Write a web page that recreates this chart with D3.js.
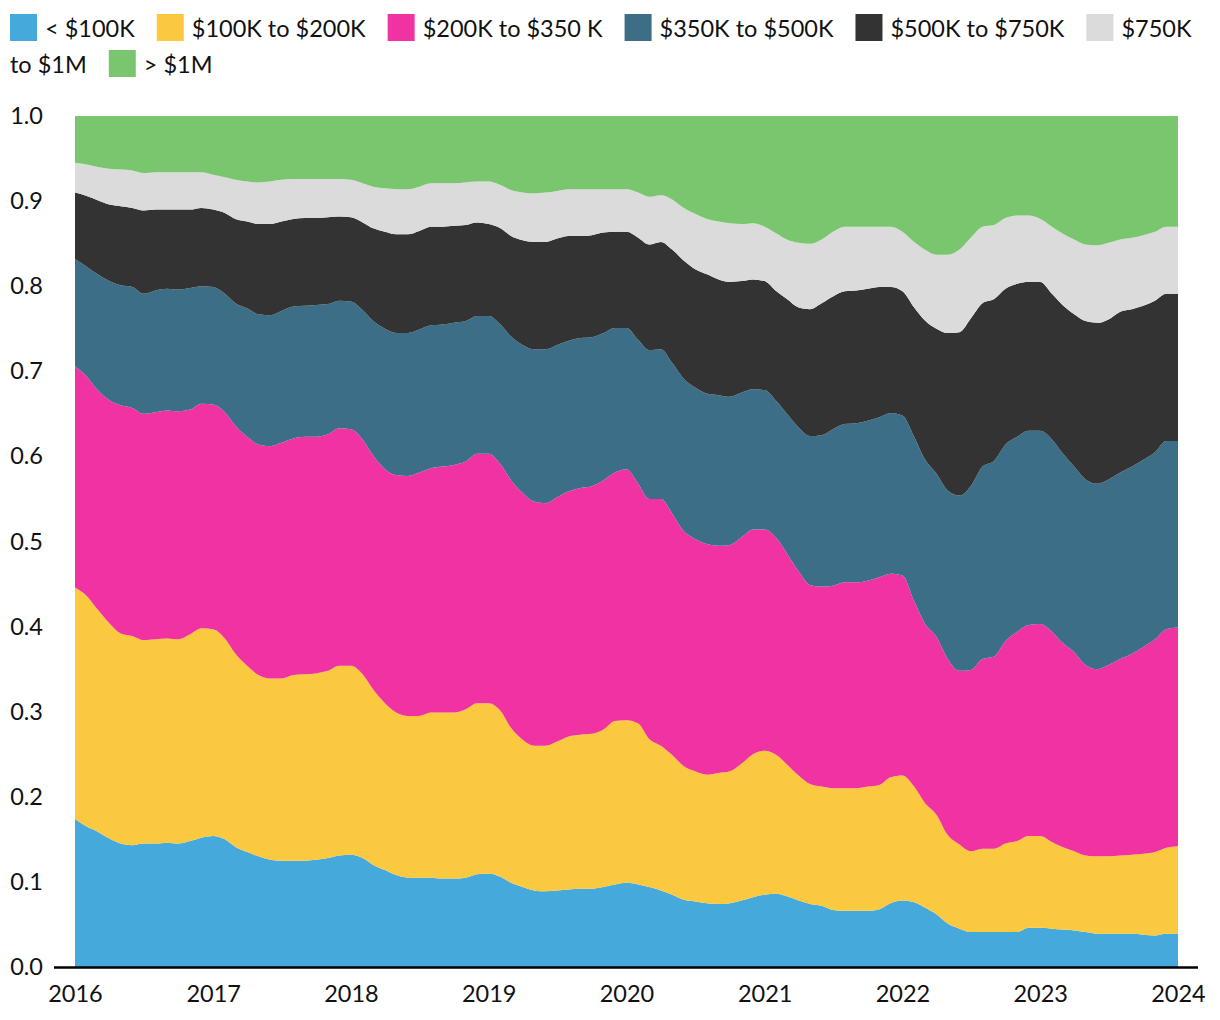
<!DOCTYPE html>
<html>
<head>
<meta charset="utf-8">
<script src="https://cdn.jsdelivr.net/npm/d3@7"></script>
<style>
  html, body { margin: 0; padding: 0; background: #fff; }
  svg { display: block; font-family: Lato, "Open Sans", sans-serif; }
</style>
</head>
<body>
<svg id="chart" width="1220" height="1020"></svg>
<script>
// ---- data (monthly shares, Jan 2016 .. Jan 2024) ----
const seriesNames = ["< $100K", "$100K to $200K", "$200K to $350 K", "$350K to $500K", "$500K to $750K", "$750K to $1M", "> $1M"];
const seriesColors = ["#45aadb", "#fbc93f", "#f032a2", "#3c6e87", "#333333", "#dbdbdb", "#7ac66e"];
const yTicks = [0, 0.1, 0.2, 0.3, 0.4, 0.5, 0.6, 0.7, 0.8, 0.9, 1.0];
const yearTicks = [2016, 2017, 2018, 2019, 2020, 2021, 2022, 2023, 2024];
const months = d3.timeMonth.range(new Date(2016, 0, 1), new Date(2024, 1, 1));

const under100k = [0.174,0.165,0.159,0.151,0.145,0.143,0.145,0.145,0.146,0.145,0.148,0.152,
 0.154,0.150,0.141,0.135,0.130,0.126,0.125,0.125,0.125,0.126,0.128,0.131,
 0.132,0.128,0.120,0.114,0.108,0.105,0.105,0.105,0.104,0.104,0.105,0.109,
 0.110,0.106,0.099,0.094,0.090,0.089,0.090,0.091,0.092,0.092,0.094,0.097,
 0.099,0.097,0.094,0.090,0.085,0.079,0.077,0.075,0.074,0.075,0.078,0.082,
 0.085,0.086,0.083,0.078,0.074,0.072,0.067,0.066,0.066,0.066,0.068,0.075,
 0.078,0.076,0.070,0.062,0.051,0.045,0.041,0.041,0.041,0.041,0.041,0.046,
 0.046,0.045,0.044,0.043,0.041,0.039,0.039,0.039,0.039,0.038,0.037,0.039,
 0.039];
const k100to200 = [0.272,0.271,0.261,0.253,0.247,0.246,0.239,0.240,0.240,0.240,0.243,0.246,
 0.243,0.236,0.227,0.219,0.213,0.213,0.214,0.218,0.219,0.219,0.220,0.223,
 0.222,0.216,0.206,0.196,0.191,0.190,0.190,0.194,0.195,0.195,0.198,0.201,
 0.200,0.195,0.182,0.173,0.170,0.171,0.175,0.180,0.181,0.182,0.185,0.192,
 0.191,0.189,0.174,0.170,0.164,0.157,0.153,0.151,0.154,0.155,0.161,0.168,
 0.169,0.163,0.155,0.147,0.141,0.140,0.143,0.144,0.144,0.146,0.146,0.148,
 0.147,0.136,0.123,0.117,0.104,0.099,0.095,0.098,0.098,0.104,0.107,0.108,
 0.108,0.102,0.097,0.093,0.090,0.091,0.091,0.092,0.093,0.095,0.098,0.101,
 0.103];
const k200to350 = [0.260,0.258,0.258,0.262,0.268,0.268,0.266,0.267,0.268,0.268,0.264,0.264,
 0.264,0.266,0.268,0.269,0.271,0.273,0.277,0.278,0.279,0.278,0.278,0.279,
 0.278,0.276,0.275,0.275,0.279,0.282,0.286,0.287,0.289,0.291,0.291,0.293,
 0.293,0.290,0.291,0.290,0.287,0.285,0.287,0.288,0.290,0.291,0.293,0.292,
 0.295,0.282,0.282,0.290,0.284,0.276,0.273,0.271,0.267,0.266,0.266,0.264,
 0.260,0.255,0.248,0.240,0.234,0.235,0.238,0.242,0.242,0.242,0.244,0.239,
 0.235,0.218,0.211,0.209,0.207,0.204,0.213,0.223,0.226,0.238,0.246,0.248,
 0.249,0.247,0.240,0.234,0.224,0.220,0.225,0.231,0.236,0.243,0.250,0.257,
 0.257];
const k350to500 = [0.126,0.129,0.136,0.140,0.141,0.142,0.141,0.143,0.143,0.143,0.143,0.138,
 0.138,0.139,0.144,0.151,0.153,0.154,0.155,0.155,0.154,0.155,0.153,0.150,
 0.150,0.152,0.158,0.165,0.167,0.168,0.168,0.168,0.167,0.167,0.165,0.162,
 0.162,0.164,0.169,0.174,0.179,0.181,0.179,0.177,0.176,0.175,0.173,0.170,
 0.166,0.169,0.175,0.176,0.177,0.179,0.178,0.177,0.177,0.174,0.170,0.165,
 0.164,0.161,0.164,0.169,0.175,0.178,0.184,0.186,0.187,0.188,0.188,0.189,
 0.188,0.193,0.193,0.192,0.198,0.206,0.216,0.226,0.230,0.231,0.229,0.228,
 0.227,0.226,0.223,0.218,0.218,0.218,0.218,0.219,0.220,0.220,0.220,0.221,
 0.219];
const k500to750 = [0.078,0.083,0.087,0.090,0.093,0.093,0.098,0.095,0.093,0.094,0.092,0.092,
 0.091,0.095,0.099,0.102,0.106,0.107,0.105,0.103,0.103,0.102,0.102,0.099,
 0.099,0.103,0.109,0.114,0.116,0.116,0.116,0.116,0.115,0.114,0.113,0.110,
 0.108,0.113,0.118,0.123,0.126,0.126,0.125,0.123,0.120,0.120,0.118,0.113,
 0.113,0.120,0.124,0.126,0.133,0.139,0.139,0.140,0.136,0.135,0.131,0.129,
 0.128,0.129,0.135,0.141,0.149,0.155,0.156,0.156,0.156,0.155,0.153,0.148,
 0.146,0.152,0.163,0.170,0.185,0.192,0.197,0.192,0.190,0.183,0.180,0.175,
 0.175,0.171,0.174,0.179,0.186,0.189,0.188,0.189,0.185,0.181,0.178,0.173,
 0.173];
const k750to1m = [0.035,0.037,0.039,0.042,0.043,0.044,0.044,0.044,0.044,0.044,0.044,0.042,
 0.041,0.042,0.046,0.047,0.049,0.050,0.049,0.047,0.046,0.046,0.045,0.044,
 0.044,0.046,0.049,0.051,0.053,0.053,0.052,0.051,0.051,0.050,0.050,0.048,
 0.050,0.051,0.054,0.056,0.057,0.058,0.056,0.055,0.055,0.054,0.051,0.050,
 0.050,0.053,0.056,0.055,0.059,0.062,0.065,0.065,0.068,0.069,0.067,0.066,
 0.064,0.068,0.070,0.076,0.077,0.075,0.076,0.076,0.075,0.073,0.071,0.071,
 0.070,0.077,0.083,0.087,0.092,0.097,0.095,0.090,0.087,0.083,0.080,0.078,
 0.074,0.079,0.084,0.088,0.090,0.091,0.090,0.085,0.084,0.083,0.081,0.079,
 0.079];
const over1m = [0.055,0.057,0.060,0.062,0.063,0.064,0.067,0.066,0.066,0.066,0.066,0.066,
 0.069,0.072,0.075,0.077,0.078,0.077,0.075,0.074,0.074,0.074,0.074,0.074,
 0.075,0.079,0.083,0.085,0.086,0.086,0.083,0.079,0.079,0.079,0.078,0.077,
 0.077,0.081,0.087,0.090,0.091,0.090,0.088,0.086,0.086,0.086,0.086,0.086,
 0.086,0.090,0.095,0.093,0.098,0.108,0.115,0.121,0.124,0.126,0.127,0.126,
 0.130,0.138,0.145,0.149,0.150,0.145,0.136,0.130,0.130,0.130,0.130,0.130,
 0.136,0.148,0.157,0.163,0.163,0.157,0.143,0.130,0.128,0.120,0.117,0.117,
 0.121,0.130,0.138,0.145,0.151,0.152,0.149,0.145,0.143,0.140,0.136,0.130,
 0.130];

const seriesValues = [under100k, k100to200, k200to350, k350to500, k500to750, k750to1m, over1m];

// ---- table for d3.stack ----
const table = months.map((m, i) => {
  const row = { date: m };
  seriesNames.forEach((n, k) => { row[n] = seriesValues[k][i]; });
  return row;
});

const svg = d3.select("#chart");
const plot = { left: 75, right: 1178, top: 116, bottom: 967 };
const FONT = 23.5;

const x = d3.scaleTime()
  .domain([new Date(2016, 0, 1), new Date(2024, 0, 1)])
  .range([plot.left, plot.right]);
const y = d3.scaleLinear().domain([0, 1]).range([plot.bottom, plot.top]);

const stack = d3.stack().keys(seriesNames).offset(d3.stackOffsetExpand);
const layers = stack(table);

const area = d3.area()
  .x(d => x(d.data.date))
  .y0(d => y(d[0]))
  .y1(d => y(d[1]))
  .curve(d3.curveMonotoneX);

svg.append("g").selectAll("path")
  .data(layers)
  .join("path")
  .attr("d", area)
  .attr("fill", (d, i) => seriesColors[i]);

// ---- y axis ----
const yAxis = d3.axisLeft(y).tickValues(yTicks).tickFormat(d3.format(".1f")).tickSize(0).tickPadding(32);
const gy = svg.append("g").attr("transform", `translate(${plot.left},0)`).call(yAxis);
gy.select(".domain").remove();
gy.selectAll("text").attr("font-size", FONT).attr("fill", "#111").attr("font-family", "Lato, sans-serif");

// ---- x axis ----
const xAxis = d3.axisBottom(x).tickValues(yearTicks.map(yr => new Date(yr, 0, 1)))
  .tickFormat(d3.timeFormat("%Y")).tickSize(0).tickPadding(18);
const gx = svg.append("g").attr("transform", `translate(0,${plot.bottom})`).call(xAxis);
gx.select(".domain").remove();
gx.selectAll("text").attr("font-size", FONT).attr("fill", "#111").attr("font-family", "Lato, sans-serif");
svg.append("line")
  .attr("x1", 54).attr("x2", 1198)
  .attr("y1", plot.bottom + 0.5).attr("y2", plot.bottom + 0.5)
  .attr("stroke", "#000").attr("stroke-width", 2.5);

// ---- legend (word-wrapped flow) ----
const lg = svg.append("g").attr("font-size", FONT).attr("fill", "#111");
const sw = 27, gapText = 8, gapItem = 22, lineH = 36, x0 = 10, maxX = 1200, topY = 14, baseY = 37;
let cx = x0, line = 0;
seriesNames.forEach((name, k) => {
  if (cx + sw > maxX) { cx = x0; line++; }
  lg.append("rect").attr("x", cx).attr("y", topY + line * lineH)
    .attr("width", sw).attr("height", sw).attr("fill", seriesColors[k]);
  cx += sw + gapText;
  const words = name.split(" ");
  let startX = cx, cur = "";
  let t = lg.append("text").attr("x", startX).attr("y", baseY + line * lineH);
  words.forEach(w => {
    const trial = cur ? cur + " " + w : w;
    t.text(trial);
    if (startX + t.node().getComputedTextLength() > maxX && cur) {
      t.text(cur);
      line++; startX = x0; cur = w;
      t = lg.append("text").attr("x", startX).attr("y", baseY + line * lineH).text(cur);
    } else {
      cur = trial;
    }
  });
  cx = startX + t.node().getComputedTextLength() + gapItem;
});
</script>
</body>
</html>
